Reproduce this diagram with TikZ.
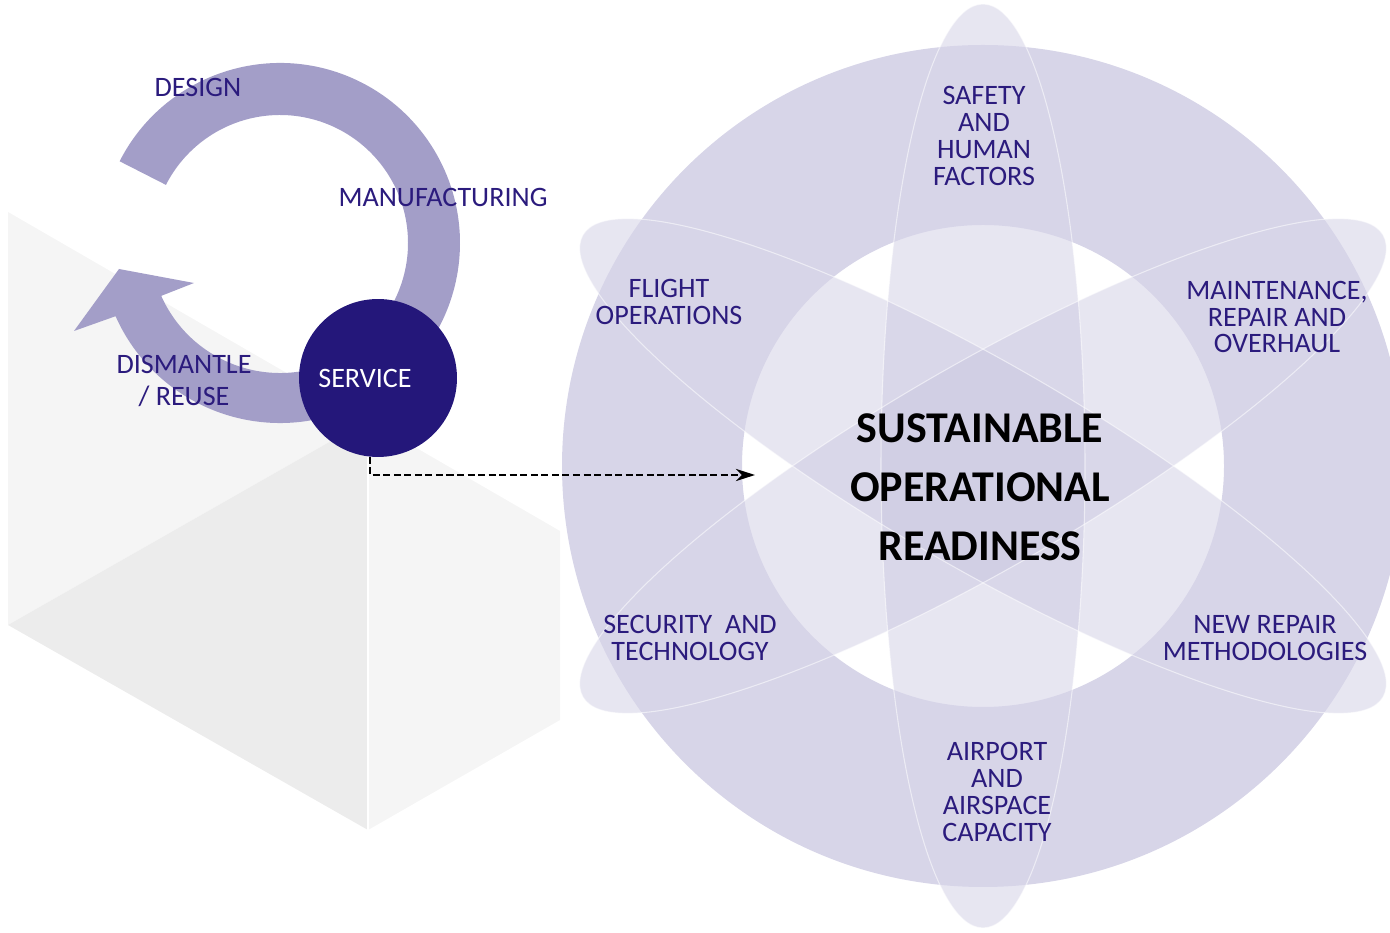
\documentclass[tikz,border=0pt]{standalone}
\usepackage{fontspec}
\setmainfont{Carlito}
\usetikzlibrary{arrows.meta}

\definecolor{ink}{HTML}{2B1B7D}
\definecolor{servicecol}{HTML}{24177A}
\definecolor{cyclecol}{HTML}{A39EC8}
\definecolor{ringcol}{HTML}{D7D5E8}
\definecolor{petalcol}{HTML}{C6C3DE}

\begin{document}
\begin{tikzpicture}[x=0.02cm, y=0.02cm,
  topic/.style={text=ink, font=\fontsize{16}{15.3}\selectfont, align=center},
  stage/.style={text=ink, font=\fontsize{16}{18}\selectfont, align=center},
  petal/.style={fill=petalcol, fill opacity=0.42}]
\useasboundingbox (0,0) rectangle (1390,933);
\clip (0,0) rectangle (1390,933);
% box behind the cycle
\fill[black!4] (8,721) -- (368,513) -- (8,308) -- cycle;
\fill[black!7.5] (368,513) -- (368,103) -- (8,308) -- cycle;
\fill[black!4] (368,513) -- (560,402) -- (560,213) -- (368,103) -- cycle;
\draw[white, line width=1.5pt] (368,513) -- (368,103);
% life cycle arrow
\begin{scope}[shift={(280,690)}]
\fill[cyclecol] (153:180) arc[start angle=153, end angle=-50, radius=180] -- (-50:128) arc[start angle=-50, end angle=153, radius=128] -- cycle;
\fill[cyclecol] (-70:180) arc[start angle=-70, end angle=-156, radius=180] -- (-206,-88) -- (-161,-26) -- (-86,-40) -- (-156:130) arc[start angle=-156, end angle=-70, radius=130] -- cycle;
\end{scope}
% ring and petals
\foreach \a in {90,30,-30}
  \fill[petal, rotate around={\a:(983,467)}] (983,467) ellipse[x radius=462, y radius=102];
\fill[ringcol, even odd rule] (983,467) circle[radius=421] (983,467) circle[radius=241];
\foreach \a in {90,30,-30}
  \draw[white, opacity=0.55, line width=0.6pt, rotate around={\a:(983,467)}] (983,467) ellipse[x radius=462, y radius=102];

\node[stage] (design) at (198,846) {DESIGN};
\node[stage] (manufacturing) at (443,736) {MANUFACTURING};
\node[stage] (dismantle) at (184,552) {DISMANTLE\\/ REUSE};
\node[circle, fill=servicecol, minimum size=3.16cm, inner sep=0pt, text=white, font=\fontsize{16}{18}\selectfont] (service) at (378,555) {SERVICE\kern0.52cm};

\node[topic] (safety) at (984,797) {SAFETY\\AND\\HUMAN\\FACTORS};
\node[topic] (flight) at (669,631) {FLIGHT\\OPERATIONS};
\node[topic] (mro) at (1277,616) {MAINTENANCE,\\REPAIR AND\\OVERHAUL};
\node[topic] (security) at (690,295) {SECURITY\ \ AND\\TECHNOLOGY};
\node[topic] (repair) at (1265,295) {NEW REPAIR\\METHODOLOGIES};
\node[topic] (airport) at (997,141) {AIRPORT\\AND\\AIRSPACE\\CAPACITY};
\node[font=\fontsize{25}{33.5}\selectfont\bfseries, align=center] (readiness) at (980,446) {SUSTAINABLE\\OPERATIONAL\\READINESS};

\coordinate (core) at (755,458);
\draw[line width=1pt, dash pattern=on 4pt off 2pt, -{Stealth[length=11pt, width=7pt]}] (service.-96) |- (core);
\end{tikzpicture}
\end{document}
